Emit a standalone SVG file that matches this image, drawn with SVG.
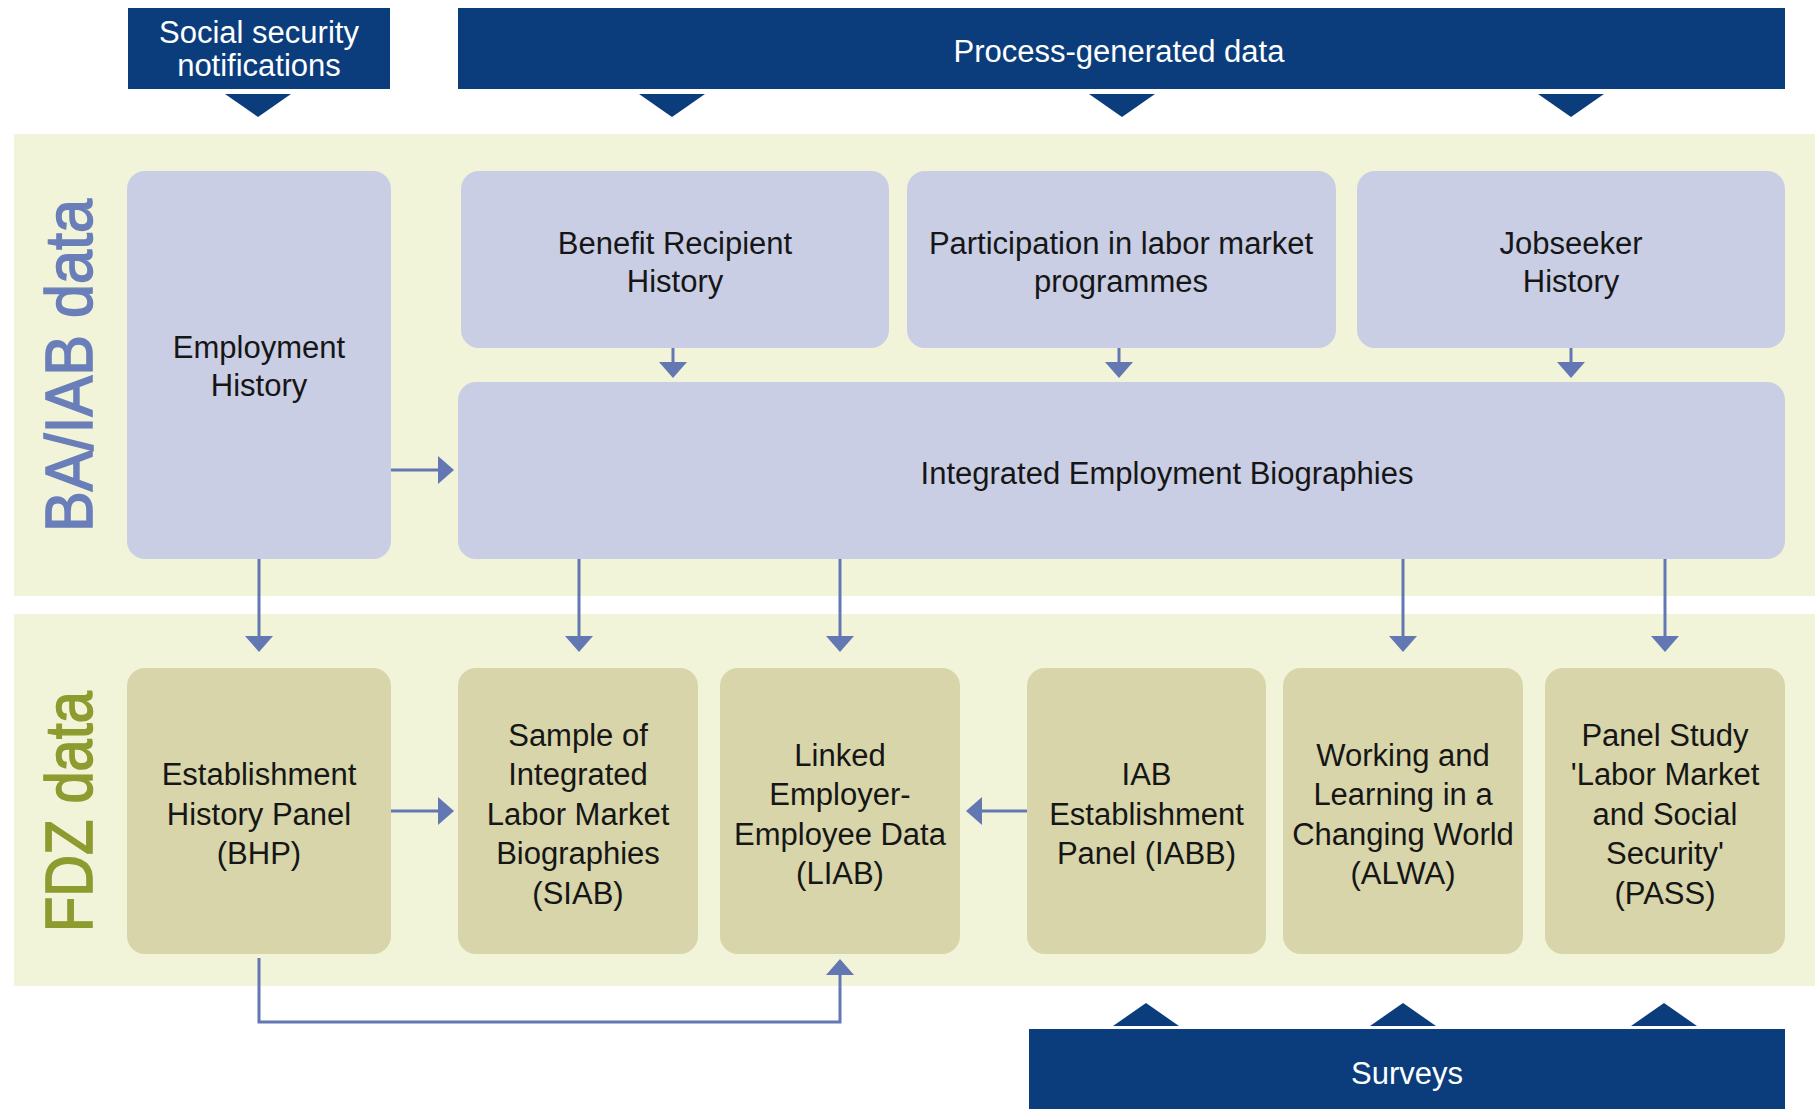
<svg xmlns="http://www.w3.org/2000/svg" width="1815" height="1109" viewBox="0 0 1815 1109">
<style>
.bg{fill:#ffffff}
.panel{fill:#f2f4da}
.src{fill:#0b3d7c}
.srct{font-family:"Liberation Sans",Arial,sans-serif;font-size:31px;fill:#ffffff;text-anchor:middle}
.ba{fill:#c9cee4}
.fdz{fill:#d7d5a9}
.t{font-family:"Liberation Sans",Arial,sans-serif;font-size:31px;fill:#161616;text-anchor:middle}
.side{font-family:"Liberation Sans",Arial,sans-serif;font-size:66px;text-anchor:middle;stroke-width:1.6}
.conn{stroke:#6378b3;stroke-width:3;fill:none}
.tri{fill:#0b3d7c}
</style>
<defs>
<marker id="ah" markerUnits="userSpaceOnUse" markerWidth="16" markerHeight="28" refX="0" refY="14" orient="auto" viewBox="0 0 16 28">
<path d="M0,0 L16,14 L0,28 Z" fill="#6378b3"/>
</marker>
</defs>
<rect class="bg" x="0" y="0" width="1815" height="1109"/>

<!-- panels -->
<g id="panel-ba">
<rect class="panel" x="14" y="134" width="1801" height="462"/>
<text class="side" fill="#6a7fb9" stroke="#6a7fb9" transform="translate(92,365.5) rotate(-90)" textLength="333" lengthAdjust="spacingAndGlyphs">BA/IAB data</text>
</g>
<g id="panel-fdz">
<rect class="panel" x="14" y="614" width="1801" height="372"/>
<text class="side" fill="#8e9b2f" stroke="#8e9b2f" transform="translate(92,811.5) rotate(-90)" textLength="241" lengthAdjust="spacingAndGlyphs">FDZ data</text>
</g>

<!-- sources -->
<g id="social-security">
<rect class="src" x="128" y="8" width="262" height="81"/>
<text class="srct" x="259" y="43">Social security</text>
<text class="srct" x="259" y="76">notifications</text>
<polygon class="tri" points="225,94 291,94 258,117"/>
</g>
<g id="process-generated">
<rect class="src" x="458" y="8" width="1327" height="81"/>
<text class="srct" x="1119" y="62">Process-generated data</text>
<polygon class="tri" points="639,94 705,94 672,117"/>
<polygon class="tri" points="1089,94 1155,94 1122,117"/>
<polygon class="tri" points="1538,94 1604,94 1571,117"/>
</g>
<g id="surveys">
<rect class="src" x="1029" y="1029" width="756" height="85"/>
<text class="srct" x="1407" y="1084">Surveys</text>
<polygon class="tri" points="1113,1026 1179,1026 1146,1003"/>
<polygon class="tri" points="1370,1026 1436,1026 1403,1003"/>
<polygon class="tri" points="1631,1026 1697,1026 1664,1003"/>
</g>

<!-- BA/IAB nodes -->
<g id="employment-history">
<rect class="ba" x="127" y="171" width="264" height="388" rx="18"/>
<text class="t" x="259" y="358">Employment</text>
<text class="t" x="259" y="396">History</text>
</g>
<g id="benefit-recipient">
<rect class="ba" x="461" y="171" width="428" height="177" rx="18"/>
<text class="t" x="675" y="254">Benefit Recipient</text>
<text class="t" x="675" y="292">History</text>
</g>
<g id="participation">
<rect class="ba" x="907" y="171" width="429" height="177" rx="18"/>
<text class="t" x="1121" y="254">Participation in labor market</text>
<text class="t" x="1121" y="292">programmes</text>
</g>
<g id="jobseeker">
<rect class="ba" x="1357" y="171" width="428" height="177" rx="18"/>
<text class="t" x="1571" y="254">Jobseeker</text>
<text class="t" x="1571" y="292">History</text>
</g>
<g id="integrated">
<rect class="ba" x="458" y="382" width="1327" height="177" rx="18"/>
<text class="t" x="1167" y="484">Integrated Employment Biographies</text>
</g>

<!-- FDZ nodes -->
<g id="bhp">
<rect class="fdz" x="127" y="668" width="264" height="286" rx="18"/>
<text class="t" x="259" y="785">Establishment</text>
<text class="t" x="259" y="824.5">History Panel</text>
<text class="t" x="259" y="864">(BHP)</text>
</g>
<g id="siab">
<rect class="fdz" x="458" y="668" width="240" height="286" rx="18"/>
<text class="t" x="578" y="746">Sample of</text>
<text class="t" x="578" y="785">Integrated</text>
<text class="t" x="578" y="824.5">Labor Market</text>
<text class="t" x="578" y="864">Biographies</text>
<text class="t" x="578" y="903.5">(SIAB)</text>
</g>
<g id="liab">
<rect class="fdz" x="720" y="668" width="240" height="286" rx="18"/>
<text class="t" x="840" y="765.5">Linked</text>
<text class="t" x="840" y="805">Employer-</text>
<text class="t" x="840" y="844.5">Employee Data</text>
<text class="t" x="840" y="884">(LIAB)</text>
</g>
<g id="iabb">
<rect class="fdz" x="1027" y="668" width="239" height="286" rx="18"/>
<text class="t" x="1146.5" y="785">IAB</text>
<text class="t" x="1146.5" y="824.5">Establishment</text>
<text class="t" x="1146.5" y="864">Panel (IABB)</text>
</g>
<g id="alwa">
<rect class="fdz" x="1283" y="668" width="240" height="286" rx="18"/>
<text class="t" x="1403" y="765.5">Working and</text>
<text class="t" x="1403" y="805">Learning in a</text>
<text class="t" x="1403" y="844.5">Changing World</text>
<text class="t" x="1403" y="884">(ALWA)</text>
</g>
<g id="pass">
<rect class="fdz" x="1545" y="668" width="240" height="286" rx="18"/>
<text class="t" x="1665" y="746">Panel Study</text>
<text class="t" x="1665" y="785">'Labor Market</text>
<text class="t" x="1665" y="824.5">and Social</text>
<text class="t" x="1665" y="864">Security'</text>
<text class="t" x="1665" y="903.5">(PASS)</text>
</g>

<!-- connectors -->
<g id="connectors">
<path class="conn" marker-end="url(#ah)" d="M673,348 V362"/>
<path class="conn" marker-end="url(#ah)" d="M1119,348 V362"/>
<path class="conn" marker-end="url(#ah)" d="M1571,348 V362"/>
<path class="conn" marker-end="url(#ah)" d="M391,470 H438"/>
<path class="conn" marker-end="url(#ah)" d="M259,559 V636"/>
<path class="conn" marker-end="url(#ah)" d="M579,559 V636"/>
<path class="conn" marker-end="url(#ah)" d="M840,559 V636"/>
<path class="conn" marker-end="url(#ah)" d="M1403,559 V636"/>
<path class="conn" marker-end="url(#ah)" d="M1665,559 V636"/>
<path class="conn" marker-end="url(#ah)" d="M391,811 H438"/>
<path class="conn" marker-end="url(#ah)" d="M1027,811 H982"/>
<path class="conn" marker-end="url(#ah)" d="M259,958 V1022 H840 V975"/>
</g>
</svg>
